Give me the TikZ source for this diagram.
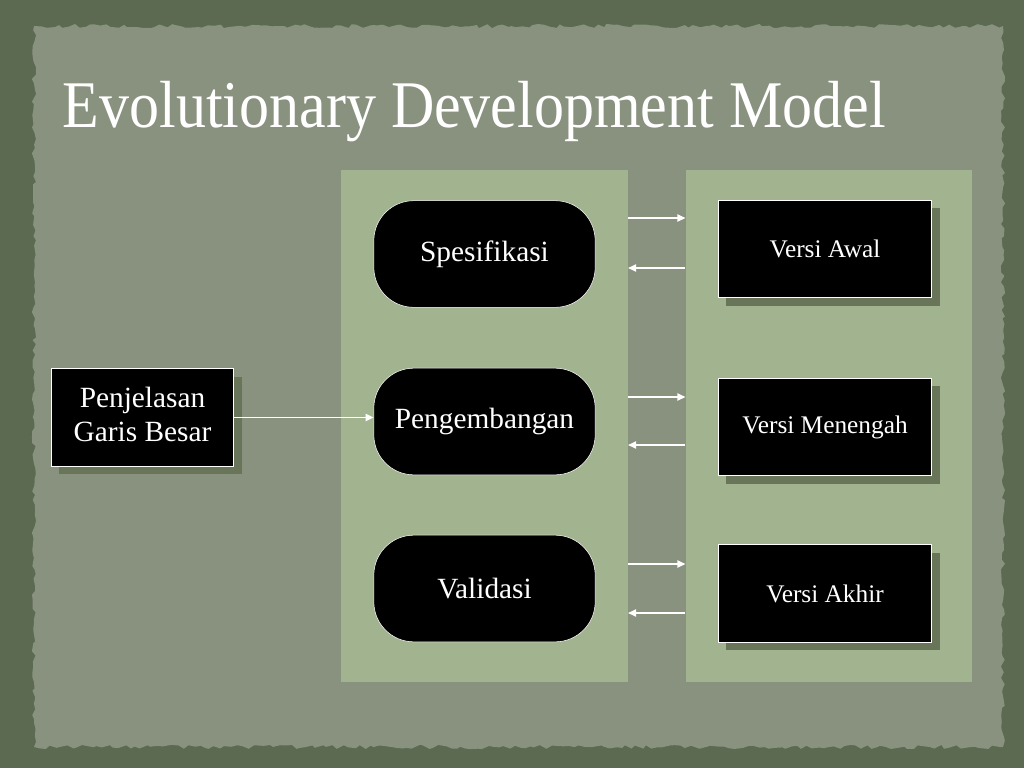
\documentclass[tikz,border=0pt]{standalone}
\usepackage{fontspec}
\setmainfont{Liberation Serif}
\newfontfamily\titlefont[FakeStretch=0.9]{Liberation Serif}
\usetikzlibrary{positioning, arrows.meta, shadows, decorations.pathmorphing}

\definecolor{framegreen}{RGB}{92,106,82}
\definecolor{slategreen}{RGB}{137,145,127}
\definecolor{panelgreen}{RGB}{162,180,143}
\definecolor{shadowgreen}{RGB}{104,117,88}

\tikzset{
    stagebox/.style={draw=white, fill=black, text=white, rounded corners=30pt,
        minimum width=166pt, minimum height=80pt, font=\fontsize{22}{25}\selectfont},
    versionbox/.style={draw=white, fill=black, text=white, line width=0.6pt,
        minimum width=160pt, minimum height=73pt, font=\fontsize{19}{23}\selectfont,
        drop shadow={shadow xshift=6pt, shadow yshift=-6pt, fill=shadowgreen, opacity=1}},
    panel/.style={fill=panelgreen, minimum width=215pt, minimum height=384pt},
    flow/.style={-{Triangle[width=5.5pt,length=6pt]}, draw=white, line width=0.9pt}
}

\begin{document}
\begin{tikzpicture}[x=0.75pt, y=-0.75pt]
    % Background
    \useasboundingbox (0,0) rectangle (1024,768);
    \fill[framegreen] (0,0) rectangle (1024,768);
    \fill[slategreen, decorate, decoration={random steps, segment length=4pt, amplitude=1.6pt}]
        (34,26) rectangle (1003,747);

    % Title
    \node[anchor=west, text=white, font=\titlefont\fontsize{50}{58}\selectfont] (Title)
        at (58,112) {Evolutionary Development Model};

    % Panels
    \node[panel] (Process) at (484.5,426) {};
    \node[panel] (Versions) at (829,426) {};

    % Nodes
    \node[stagebox] (Spec) at (484.5,254) {Spesifikasi};
    \node[stagebox] (Dev) at (484.5,421.5) {Pengembangan};
    \node[stagebox] (Valid) at (484.5,588.5) {Validasi};

    \node[versionbox, minimum width=137pt, font=\fontsize{22}{26}\selectfont] (Outline)
        at (142.5,417.5) {\begin{tabular}{@{}c@{}}Penjelasan\\Garis Besar\end{tabular}};
    \node[versionbox] (First) at (825,249) {Versi Awal};
    \node[versionbox] (Middle) at (825,427) {Versi Menengah};
    \node[versionbox] (Final) at (825,593.5) {Versi Akhir};

    % Paths
    \draw[flow] (Outline.east) -- (Dev.west |- Outline.east);

    \draw[flow] (Process.east |- 0,218) -- (Versions.west |- 0,218);
    \draw[flow] (Versions.west |- 0,268) -- (Process.east |- 0,268);
    \draw[flow] (Process.east |- 0,397) -- (Versions.west |- 0,397);
    \draw[flow] (Versions.west |- 0,445) -- (Process.east |- 0,445);
    \draw[flow] (Process.east |- 0,564) -- (Versions.west |- 0,564);
    \draw[flow] (Versions.west |- 0,613) -- (Process.east |- 0,613);
\end{tikzpicture}
\end{document}
